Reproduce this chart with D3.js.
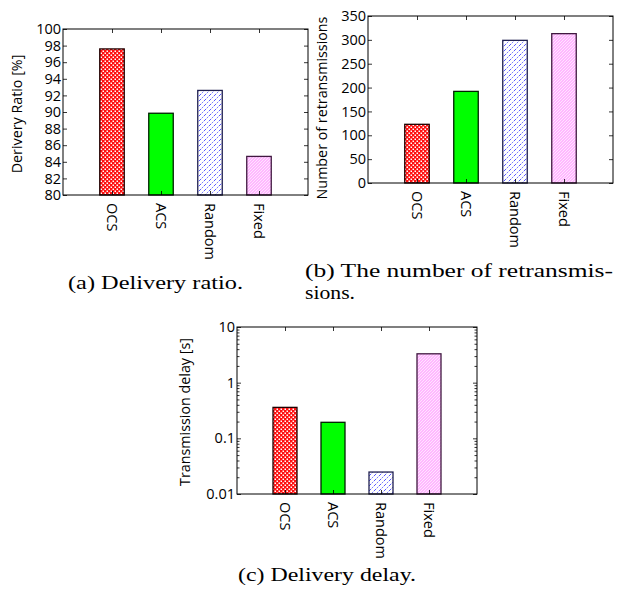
<!DOCTYPE html>
<html><head><meta charset="utf-8">
<script src="https://cdn.jsdelivr.net/npm/d3@7"></script>
<style>body{margin:0;background:#fff}</style>
</head><body>
<svg id="c" width="621" height="595"></svg>
<script>
const categories = ["OCS", "ACS", "Random", "Fixed"];
const deliveryRatio = [97.6, 89.85, 92.6, 84.65];
const retransmissions = [123, 192, 299, 313];
const delay = [0.36, 0.194, 0.0248, 3.3];
const ticksA = [80, 82, 84, 86, 88, 90, 92, 94, 96, 98, 100];
const ticksB = [0, 50, 100, 150, 200, 250, 300, 350];
const ticksC = [0.01, 0.1, 1, 10];
const ticksCLabels = ["0.01", "0.1", "1", "10"];

const svg = d3.select("#c");
const defs = svg.append("defs");
let p = defs.append("pattern").attr("id","pOCS").attr("patternUnits","userSpaceOnUse").attr("width",4).attr("height",4);
p.append("rect").attr("width",4).attr("height",4).attr("fill","#ff1010");
p.append("rect").attr("x",0.5).attr("y",0.5).attr("width",1.5).attr("height",1.5).attr("fill","#fff");
p.append("rect").attr("x",2.5).attr("y",2.5).attr("width",1.5).attr("height",1.5).attr("fill","#fff");
p = defs.append("pattern").attr("id","pRand").attr("patternUnits","userSpaceOnUse").attr("width",5).attr("height",5);
p.append("rect").attr("width",5).attr("height",5).attr("fill","#fff");
[[0,4,"#5a5aff"],[2,2,"#8080ff"],[4,0,"#5a5aff"],[1,3,"#d0d0ff"],[3,1,"#d0d0ff"]].forEach(([x,y,c])=>
  p.append("rect").attr("x",x).attr("y",y).attr("width",1).attr("height",1).attr("fill",c));
p = defs.append("pattern").attr("id","pFix").attr("patternUnits","userSpaceOnUse").attr("width",3).attr("height",3);
p.append("rect").attr("width",3).attr("height",3).attr("fill","#ffb8ff");
[[0,2],[1,1],[2,0]].forEach(([x,y])=>p.append("rect").attr("x",x).attr("y",y).attr("width",1).attr("height",1).attr("fill","#ffe4ff"));

const fills = ["url(#pOCS)", "#00ff00", "url(#pRand)", "url(#pFix)"];
const strokes = ["#200000", "#002000", "#202050", "#401840"];

const FONT = "'Open Sans', sans-serif";

function panel(opt){
  const {left,right,top,bottom,values,y,ticks,tickLabels,title,titleX,titleY,minor} = opt;
  const g = svg.append("g");
  const x = d3.scaleLinear().domain([0,5]).range([left,right]);
  const base = y.range()[0];
  g.selectAll("rect.bar").data(values).join("rect")
    .attr("x",(d,i)=>x(i+0.75))
    .attr("width",x(0.5)-x(0))
    .attr("y",d=>y(d)).attr("height",d=>base-y(d))
    .attr("fill",(d,i)=>fills[i]).attr("stroke",(d,i)=>strokes[i]).attr("stroke-width",1.3);
  g.append("rect").attr("x",left).attr("y",top).attr("width",right-left).attr("height",bottom-top)
    .attr("fill","none").attr("stroke","#000").attr("stroke-width",1);
  const yl = d3.axisLeft(y).tickValues(ticks).tickSize(-4).tickPadding(2).tickFormat((d,i)=>tickLabels[i]);
  const ya = g.append("g").attr("transform",`translate(${left},0)`).call(yl);
  g.append("g").attr("transform",`translate(${right},0)`).call(d3.axisRight(y).tickValues(ticks).tickSize(-4).tickFormat(""));
  if(minor){
    g.append("g").attr("transform",`translate(${left},0)`).call(d3.axisLeft(y).tickValues(minor).tickSize(-2.5).tickFormat(""));
    g.append("g").attr("transform",`translate(${right},0)`).call(d3.axisRight(y).tickValues(minor).tickSize(-2.5).tickFormat(""));
  }
  const xb = g.append("g").attr("transform",`translate(0,${bottom})`)
    .call(d3.axisBottom(x).tickValues([1,2,3,4]).tickSize(-4).tickPadding(0).tickFormat((d)=>categories[d-1]));
  g.append("g").attr("transform",`translate(0,${top})`)
    .call(d3.axisTop(x).tickValues([1,2,3,4]).tickSize(-4).tickFormat(""));
  g.selectAll(".domain").remove();
  g.selectAll(".tick line").attr("stroke","#000").attr("stroke-width",0.8);
  ya.selectAll("text").attr("font-family",FONT).attr("font-size",14.5).attr("fill","#000");
  xb.selectAll("text").attr("font-family",FONT).attr("font-size",14.5).attr("fill","#000")
    .attr("text-anchor","start").attr("transform","rotate(90)").attr("x",8).attr("y",0).attr("dy","0.35em");
  g.append("text").attr("transform",`translate(${titleX},${titleY}) rotate(-90)`)
    .attr("text-anchor","middle").attr("dy","0.35em").attr("font-family",FONT).attr("font-size",14.3).text(title);
}

panel({left:63,right:308,top:29,bottom:195,values:deliveryRatio,
  y:d3.scaleLinear().domain([80,100]).range([195,29]),ticks:ticksA,tickLabels:ticksA.map(String),
  title:"Derivery Ratio [%]",titleX:17,titleY:114});
panel({left:368,right:613,top:16,bottom:183,values:retransmissions,
  y:d3.scaleLinear().domain([0,350]).range([183,16]),ticks:ticksB,tickLabels:ticksB.map(String),
  title:"Number of retransmissions",titleX:322,titleY:108});
const minorC = [];
[0.01,0.1,1].forEach(d=>{for(let k=2;k<10;k++) minorC.push(d*k);});
panel({left:237,right:477,top:327,bottom:494,values:delay,
  y:d3.scaleLog().domain([0.01,10]).range([494,327]),ticks:ticksC,tickLabels:ticksCLabels,
  title:"Transmission delay [s]",titleX:185,titleY:412,minor:minorC});

const SERIF = "'Liberation Serif', serif";
function cap(txt,x,y,w){
  svg.append("text").attr("x",x).attr("y",y).attr("font-family",SERIF).attr("font-size",19)
    .attr("textLength",w).attr("lengthAdjust","spacingAndGlyphs").text(txt);
}
cap("(a) Delivery ratio.",68,289,175);
cap("(b) The number of retransmis-",305,277,308);
cap("sions.",305,299,50);
cap("(c) Delivery delay.",238,581,178);
</script>
</body></html>
